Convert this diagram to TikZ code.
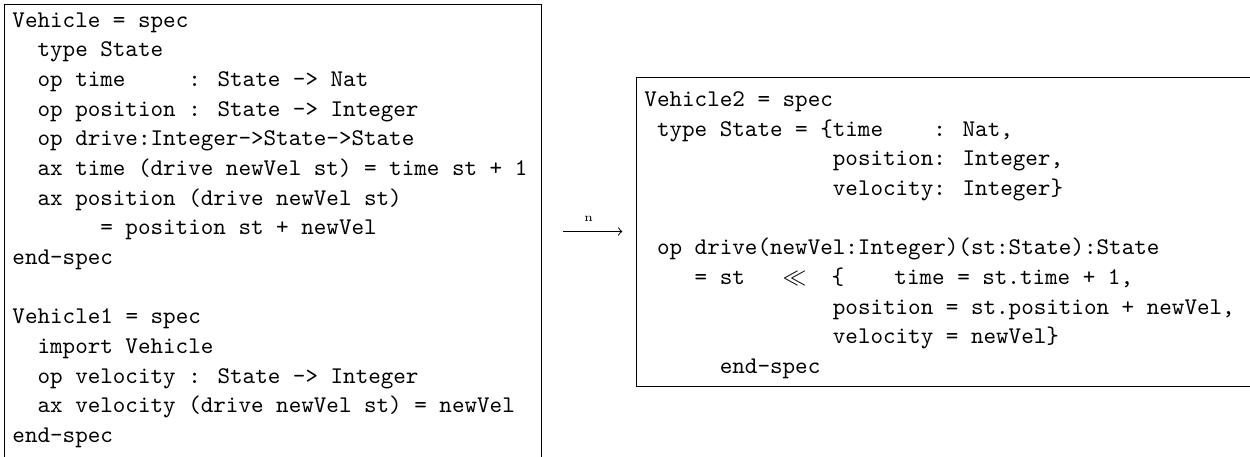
\documentclass[tikz,border=0pt]{standalone}
\usetikzlibrary{arrows, fit, positioning}
\tikzstyle{specbox} = [rectangle, draw=black, inner sep=0pt]
\tikzstyle{spectext} = [inner sep=0pt, align=left, font={\ttfamily\fontsize{10}{12.4}\selectfont}, execute at begin node=\strut]
\tikzstyle{arrow} = [->]

\begin{document}
\begin{tikzpicture}[x=0.418pt, y=0.418pt]
        \useasboundingbox (0,0) rectangle (1250,457);
        \clip (0,0) rectangle (1250,457);
        \node[spectext, anchor=north west] (orig) at (12,445) {Vehicle = spec\\
~~type State\\
~~op time~~~~~: State -> Nat\\
~~op position : State -> Integer\\
~~op drive:Integer->State->State\\
~~ax time (drive newVel st) = time st + 1\\
~~ax position (drive newVel st)\\
~~~~~~~= position st + newVel\\
end-spec\\
~\\
Vehicle1 = spec\\
~~import Vehicle\\
~~op velocity : State -> Integer\\
~~ax velocity (drive newVel st) = newVel\\
end-spec};
        \node[spectext, anchor=north west] (refd) at (644,366) {Vehicle2 = spec\\
~type State = \{time~~~~: Nat,\\
~~~~~~~~~~~~~~~position: Integer,\\
~~~~~~~~~~~~~~~velocity: Integer\}\\
~\\
~op drive(newVel:Integer)(st:State):State\\
~~~~=~st~~~$\ll$~~\{~~~~time = st.time + 1,\\
~~~~~~~~~~~~~~~position = st.position + newVel,\\
~~~~~~~~~~~~~~~velocity = newVel\}\\
~~~~~~end-spec};
        \node[specbox, fit={(4,453) (541,-20)}] (origbox) {};
        \node[specbox, fit={(636,71) (1270,380)}] (refdbox) {};

        \draw[arrow, shorten <=9pt, shorten >=5.5pt] (origbox.east |- refdbox.west) -- node[above=0.5pt, font=\tiny] (lbl) {n} (refdbox.west);
    \end{tikzpicture}
\end{document}
